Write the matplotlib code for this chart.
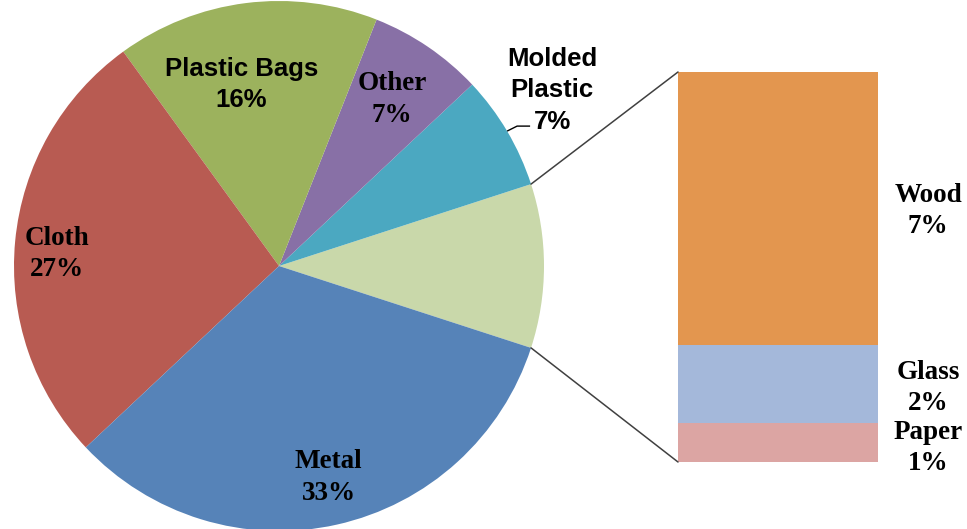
import numpy as np
import matplotlib
matplotlib.use("Agg")
import matplotlib.pyplot as plt
from matplotlib.patches import ConnectionPatch

# Main pie categories (counter-clockwise from the split-out wedge)
pie_labels = ["Molded\nPlastic", "Other", "Plastic Bags", "Cloth", "Metal"]
pie_values = [7, 7, 16, 27, 33]
pie_colors = ["#4BA8C1", "#8870A6", "#9CB25D", "#B85B52", "#5683B8"]

# Breakdown shown in the stacked bar (bottom to top)
bar_labels = ["Paper", "Glass", "Wood"]
bar_values = [1, 2, 7]
bar_colors = ["#DCA5A3", "#A4B8DA", "#E3964F"]
rest_color = "#C9D8AA"

W, H = 967, 529
fig = plt.figure(figsize=(W / 100, H / 100), dpi=100)
ax = fig.add_axes([0, 0, 1, 1])

serif = dict(family="Liberation Serif", weight="bold", size=19.5)
sans = dict(family="Liberation Sans", weight="bold", size=18.5)

rest_value = sum(bar_values)
values = [rest_value] + pie_values
colors = [rest_color] + pie_colors
center = (279, 263)
radius = 265
start = -0.5 * rest_value / sum(values) * 360

wedges, _ = ax.pie(values, colors=colors, startangle=start, counterclock=True,
                   center=center, radius=radius, frame=True,
                   wedgeprops=dict(edgecolor="none"))
ax.set_xlim(0, W)
ax.set_ylim(0, H)
ax.set_aspect("equal")
ax.axis("off")


def edge_point(angle_deg, frac=1.0):
    a = np.deg2rad(angle_deg)
    return (center[0] + frac * radius * np.cos(a),
            center[1] + frac * radius * np.sin(a))


# Labels inside the pie: (radial fraction, angle shift, font, line spacing)
placements = {
    "Other": (0.76, 0.0, serif, 1.35),
    "Plastic Bags": (0.70, 4.5, sans, 1.35),
    "Cloth": (0.84, 2.3, serif, 1.35),
    "Metal": (0.82, 0.6, serif, 1.35),
}
for w, lab, val in zip(wedges[1:], pie_labels, pie_values):
    mid = 0.5 * (w.theta1 + w.theta2)
    if lab in placements:
        frac, shift, font, ls = placements[lab]
        x, y = edge_point(mid + shift, frac)
        ax.text(x, y, f"{lab}\n{val}%", ha="center", va="center",
                linespacing=ls, **font)
    else:
        # outside label with a short leader line
        p0 = edge_point(mid, 1.0)
        p1 = (p0[0] + 10, p0[1] + 5)
        p2 = (p1[0] + 13, p1[1])
        ax.plot([p0[0], p1[0], p2[0]], [p0[1], p1[1], p2[1]],
                color="black", lw=1.0, solid_capstyle="butt")
        ax.text(p2[0] + 22, p2[1] + 36, f"{lab}\n{val}%", ha="center",
                va="center", linespacing=1.4, **sans)

# Stacked bar for the split-out wedge
bx = fig.add_axes([678 / W, (H - 462) / H, 200 / W, 390 / H])
bottom = 0
for lab, val, col in zip(bar_labels, bar_values, bar_colors):
    bx.bar(0, val, bottom=bottom, width=1.0, color=col, edgecolor="none")
    bottom += val
bx.set_xlim(-0.5, 0.5)
bx.set_ylim(0, rest_value)
bx.axis("off")

offsets = {"Paper": -0.14, "Glass": -0.1, "Wood": -0.06}
bottom = 0
for lab, val in zip(bar_labels, bar_values):
    y = bottom + val / 2 + offsets[lab]
    bx.text(1.25, y, f"{lab}\n{val}%", transform=bx.get_yaxis_transform(),
            ha="center", va="center", linespacing=1.3, **serif)
    bottom += val

# Connector lines from the split-out wedge to the bar
rest = wedges[0]
for ang, yb in [(rest.theta2, rest_value), (rest.theta1, 0)]:
    con = ConnectionPatch(xyA=edge_point(ang), coordsA=ax.transData,
                          xyB=(-0.5, yb), coordsB=bx.transData,
                          color="#404040", lw=1.1)
    fig.add_artist(con)

fig.savefig("out.png", dpi=100, facecolor="white")
